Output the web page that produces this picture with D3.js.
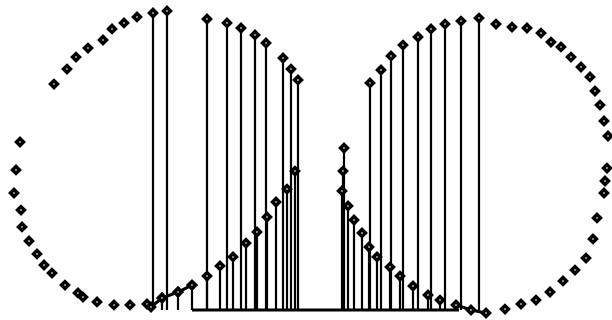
<!DOCTYPE html>
<html>
<head>
<meta charset="utf-8">
<script src="https://cdn.jsdelivr.net/npm/d3@7"></script>
<style>
  html, body { margin: 0; padding: 0; background: #fff; }
  svg { display: block; }
</style>
</head>
<body>
<svg id="chart" width="612" height="320"></svg>
<script>
// Free markers on the outer arcs (no stems)
const arcX = [-33.8, -36.4, -38.8, -40.6, -43.6, -46.0, -47.8, -50.4, -57.2, -58.0, -58.4, -57.0,
              -56.8, -55.4, -53.8, -52.4, -50.8, -48.2, -45.6, -44.6, -41.8, -38.4, -35.2, -31.8,
              38.0, 41.2, 44.2, 47.0, 49.0, 51.0, 53.0, 55.0, 56.8, 57.8, 58.8, 59.6, 60.4,
              60.2, 59.8, 59.6, 58.2, 57.4, 56.0, 53.8, 51.4, 48.8, 46.0, 43.0, 39.8];
const arcY = [97.7, 95.7, 93.7, 90.0, 87.3, 84.3, 80.3, 75.3, 56.0, 46.7, 39.0, 33.3,
              27.7, 23.0, 18.7, 15.0, 12.3, 8.3, 5.7, 4.3, 2.7, 1.7, 1.7, 2.0,
              95.3, 94.3, 94.0, 92.3, 89.3, 87.7, 84.3, 81.0, 77.7, 73.0, 68.3, 63.0, 58.0,
              47.3, 43.0, 39.0, 30.7, 23.7, 17.3, 13.3, 9.7, 6.0, 3.3, 2.0, 0.3];

// Tall stems
const tallX = [-30.6, -27.8, -19.8, -15.8, -13.0, -10.2, -8.0, -4.6, -3.0, -1.6,
               12.8, 15.0, 17.0, 19.4, 22.4, 25.0, 27.8, 31.0, 34.6];
const tallY = [99.0, 99.7, 97.0, 95.7, 94.0, 91.7, 89.0, 84.0, 80.3, 76.7,
               75.7, 80.0, 84.7, 88.3, 91.0, 93.7, 95.3, 96.3, 97.3];

// Short stems
const shortX = [-28.8, -25.6, -22.8, -19.8, -17.2, -14.6, -12.0, -9.8, -7.8, -6.0, -3.8, -2.2,
                7.6, 7.4, 7.2, 8.4, 9.6, 11.2, 12.6, 14.2, 16.8, 18.8, 21.4, 24.4, 26.8];
const shortY = [4.0, 6.0, 8.3, 11.3, 14.7, 17.7, 22.3, 26.0, 31.0, 36.0, 40.3, 46.3,
                54.0, 46.3, 39.7, 34.7, 30.0, 25.7, 21.0, 17.7, 14.3, 11.3, 8.0, 5.0, 3.3];

// Connected trails near the baseline
const trailLeftX = [-31.0, -28.8, -25.6, -22.8];
const trailLeftY = [1.0, 4.0, 6.0, 8.3];
const trailRightX = [30.0, 33.0, 36.0];
const trailRightY = [1.7, 0.0, -1.0];

// Baseline extent
const baseX = [-22.8, 30.6];

const svg = d3.select("#chart");
const x = d3.scaleLinear().domain([-61.2, 61.2]).range([0, 612]);
const y = d3.scaleLinear().domain([0, 100]).range([310, 10]);

const g = svg.append("g");

// baseline
g.append("line")
  .attr("x1", x(baseX[0])).attr("x2", x(baseX[1]))
  .attr("y1", y(0)).attr("y2", y(0))
  .attr("stroke", "#000").attr("stroke-width", 3);

const stems = tallX.map((v, i) => ({x: v, y: tallY[i]}))
  .concat(shortX.map((v, i) => ({x: v, y: shortY[i]})));

g.selectAll("line.stem").data(stems).join("line")
  .attr("class", "stem")
  .attr("x1", d => x(d.x)).attr("x2", d => x(d.x))
  .attr("y1", y(0)).attr("y2", d => y(d.y))
  .attr("stroke", "#000").attr("stroke-width", 2.2);

const line = d3.line().x(d => x(d[0])).y(d => y(d[1]));
[[trailLeftX, trailLeftY], [trailRightX, trailRightY]].forEach(([xs, ys]) => {
  g.append("path")
    .attr("d", line(xs.map((v, i) => [v, ys[i]])))
    .attr("fill", "none").attr("stroke", "#000").attr("stroke-width", 3);
});

const markers = arcX.map((v, i) => ({x: v, y: arcY[i]}))
  .concat(stems)
  .concat(trailLeftX.map((v, i) => ({x: v, y: trailLeftY[i]})))
  .concat(trailRightX.map((v, i) => ({x: v, y: trailRightY[i]})));

// diamond markers: heavy black rim with a small white centre
const sym = d3.symbol().type(d3.symbolSquare).size(24);
g.selectAll("path.mk").data(markers).join("path")
  .attr("class", "mk")
  .attr("d", sym)
  .attr("transform", d => `translate(${x(d.x)},${y(d.y)}) rotate(45)`)
  .attr("fill", "#fff").attr("stroke", "#000").attr("stroke-width", 3.5);
</script>
</body>
</html>
